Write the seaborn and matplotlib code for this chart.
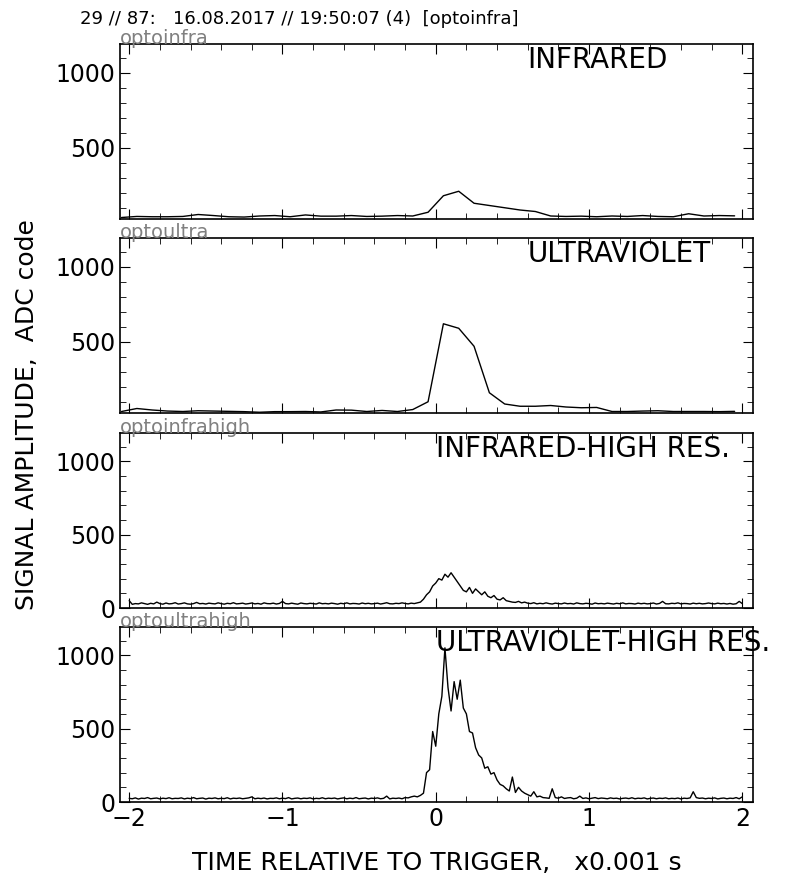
import numpy as np
import pandas as pd
import matplotlib
matplotlib.use("Agg")
import matplotlib.pyplot as plt
import seaborn as sns
from matplotlib.ticker import MultipleLocator

sns.set_style("ticks")
plt.rcParams['font.family'] = ['DejaVu Sans']
plt.rcParams['text.color'] = 'black'
plt.rcParams['xtick.color'] = 'black'
plt.rcParams['ytick.color'] = 'black'
plt.rcParams['axes.edgecolor'] = 'black'

# low resolution series (x = -2.05 .. 1.95, step 0.1)
t_low = np.round(np.linspace(-2.05, 1.95, 41), 3)
infra = [35, 42, 40, 40, 42, 55, 48, 40, 38, 45, 48, 40, 52, 44, 44, 48, 42, 44, 48,
         45, 70, 180, 210, 130, 115, 100, 85, 75, 45, 42, 44, 40, 45, 42, 48, 42, 40, 60, 45, 48, 46]
ultra = [35, 55, 45, 38, 35, 40, 38, 36, 34, 30, 34, 34, 35, 32, 45, 44, 35, 42, 35, 48,
         100, 620, 590, 470, 160, 85, 70, 70, 75, 65, 60, 62, 35, 35, 38, 40, 35, 35, 35, 34, 36]

# high resolution series (x = -2 .. 2, step 0.02)
t_high = np.round(np.linspace(-2, 2, 201), 3)
infrahigh = [50, 25, 30, 28, 35, 30, 25, 32, 28, 40, 30, 26, 34, 28, 30, 36, 27, 30, 35, 28,
             26, 30, 38, 29, 31, 27, 33, 30, 28, 35, 30, 26, 32, 29, 36, 28, 30, 33, 27, 30,
             34, 28, 31, 26, 35, 30, 29, 33, 27, 31, 45, 30, 28, 33, 29, 26, 34, 30, 28, 32,
             30, 27, 35, 29, 31, 28, 33, 30, 26, 32, 29, 35, 28, 31, 30, 27, 34, 29, 32, 28,
             30, 33, 27, 31, 36, 29, 28, 32, 30, 35, 31, 28, 33, 30, 35,
             40, 60, 90, 110, 150, 170, 200, 190, 230, 210, 240, 210, 180, 150, 120, 110, 140, 100, 130, 110,
             90, 110, 80, 70, 85, 60, 55, 70, 50, 45, 40, 38, 45, 35, 40,
             33, 30, 36, 28, 32, 29, 35, 30, 27, 33, 30, 28, 34, 29, 31, 27, 35, 30, 28, 32,
             30, 26, 34, 29, 31, 28, 33, 30, 27, 32, 29, 35, 28, 31, 30, 27, 33, 29, 32, 28,
             30, 34, 27, 31, 45, 29, 28, 32, 30, 35, 28, 31, 30, 27, 33, 29, 32, 28, 30, 34,
             30, 28, 33, 29, 31,
             27, 31, 26, 29, 45, 30]
ultrahigh = [25, 22, 28, 20, 26, 24, 30, 22, 25, 27, 21, 26, 23, 29, 22, 25, 24, 28, 21, 26,
             23, 30, 22, 25, 27, 20, 26, 24, 28, 22, 25, 23, 29, 21, 26, 24, 27, 22, 25, 28,
             35, 22, 26, 23, 27, 21, 25, 24, 28, 22, 26, 23, 30, 21, 25, 27, 22, 26, 24, 28,
             21, 25, 23, 29, 22, 26, 24, 27, 21, 25, 28, 22, 26, 23, 30, 22, 25, 27, 21, 26,
             24, 28, 22, 25, 40, 21, 26, 24, 27, 22,
             30, 28, 35, 40, 35, 45, 60, 200, 220, 480, 380, 600, 720, 1050, 780, 620, 820, 700, 830, 640,
             600, 480, 470, 370, 320, 300, 230, 240, 190, 200, 150, 120, 110, 90, 75, 170, 65, 100, 75, 60,
             50, 40, 70, 35, 40, 30,
             28, 25, 90, 30, 26, 35, 24, 28, 30, 22, 26, 40, 24, 28, 22, 26, 30, 23, 27, 25,
             22, 28, 24, 26, 21, 25, 27, 23, 29, 22, 26, 24, 28, 21, 25, 27, 22, 26, 24, 28,
             22, 25, 23, 27, 21, 26, 24, 28, 70, 30, 25, 27, 22, 26, 24, 28, 21, 25, 27, 22,
             26, 24, 30, 22, 35]

panels = [("optoinfra", "INFRARED", t_low, infra, 0.6),
          ("optoultra", "ULTRAVIOLET", t_low, ultra, 0.6),
          ("optoinfrahigh", "INFRARED-HIGH RES.", t_high, infrahigh, 0.0),
          ("optoultrahigh", "ULTRAVIOLET-HIGH RES.", t_high, ultrahigh, 0.0)]

fig = plt.figure(figsize=(7.92, 8.82), dpi=100)
W, H = 792, 882
tops = [44, 238, 433, 627]
for k, (tag, name, tx, vals, lx) in enumerate(panels):
    top = tops[k]
    ax = fig.add_axes([120 / W, 1 - (top + 175) / H, 633 / W, 175 / H])
    df = pd.DataFrame({"t": tx, "v": vals})
    sns.lineplot(data=df, x="t", y="v", ax=ax, color="black", lw=1)
    ax.set_xlim(-2.06, 2.07)
    if k < 2:
        ax.set_ylim(25, 1192)
        ax.set_yticks([500, 1000])
    else:
        ax.set_ylim(0, 1192)
        ax.set_yticks([0, 500, 1000])
    ax.yaxis.set_minor_locator(MultipleLocator(100))
    ax.xaxis.set_minor_locator(MultipleLocator(0.2))
    ax.set_xticks([-2, -1, 0, 1, 2])
    ax.tick_params(which="both", direction="in", top=True, right=True, labelsize=17)
    ax.tick_params(which="major", length=7)
    ax.tick_params(which="minor", length=4)
    if k < 3:
        ax.set_xticklabels([])
    ax.set_xlabel("")
    ax.set_ylabel("")
    for s in ax.spines.values():
        s.set_linewidth(1.2)
    ax.text(0, 1.0, tag, transform=ax.transAxes, color="gray", fontsize=14,
            ha="left", va="baseline")
    ax.text(lx, 1180, name, fontsize=20, ha="left", va="top")

fig.text(80 / W, 1 - 19 / H, "29 // 87:   16.08.2017 // 19:50:07 (4)  [optoinfra]",
         fontsize=13, ha="left", va="center")
fig.text(27 / W, 1 - 415 / H, "SIGNAL AMPLITUDE,  ADC code", rotation=90,
         fontsize=18, ha="center", va="center")
fig.text(437 / W, 1 - 863 / H, "TIME RELATIVE TO TRIGGER,   x0.001 s",
         fontsize=18, ha="center", va="center")
fig.savefig("out.png", dpi=100)
